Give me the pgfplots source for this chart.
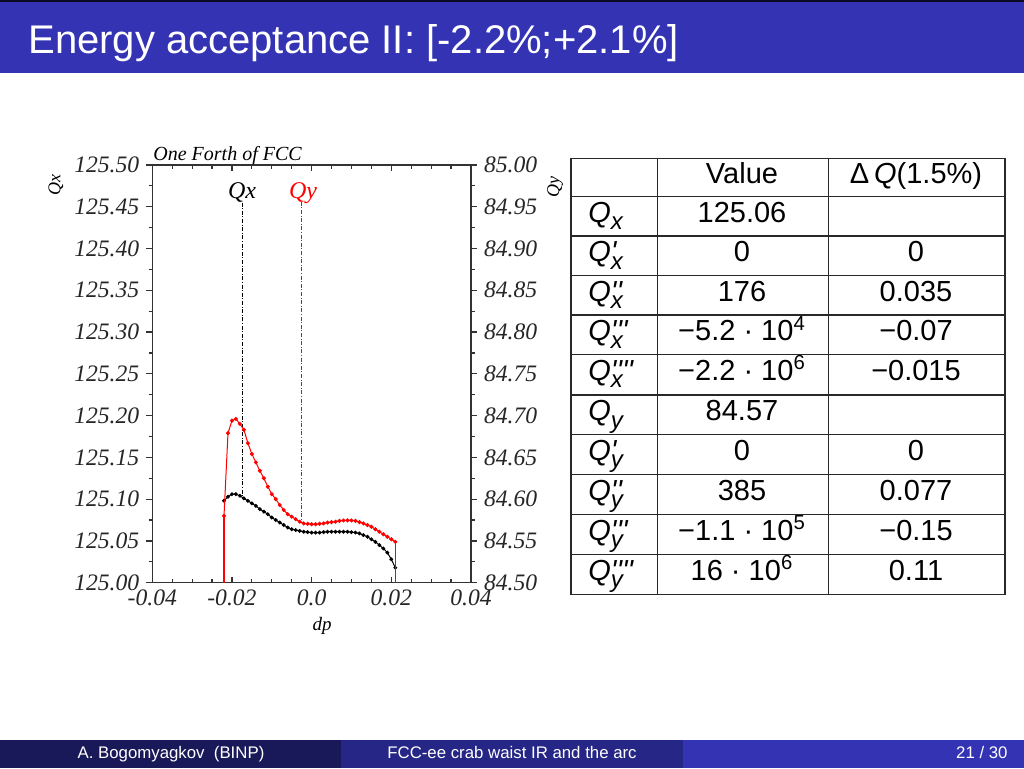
\documentclass[border=0pt]{standalone}
\usepackage{fontspec}
\usepackage{amsmath}
\usepackage{pgfplots}
\pgfplotsset{compat=1.18}
\setmainfont{Liberation Sans}
\newfontfamily\tms{Liberation Serif}
\definecolor{bluebar}{RGB}{51,51,179}
\definecolor{footA}{RGB}{25,25,90}
\definecolor{footB}{RGB}{38,38,134}
\definecolor{gridline}{RGB}{40,40,40}

% one table cell name: Q, primes over the subscript
\newcommand\pr{\textquotesingle}
\newcommand\Qv[2]{\textit{Q}\rlap{\textit{#2}}\raisebox{-3.6pt}{\fontsize{12}{12}\selectfont\textit{#1}}}

\pgfplotsset{
  qaxis/.style={
    at={(76.15pt,92.65pt)}, anchor=south west,
    scale only axis, width=159.35pt, height=208.85pt,
    xmin=-0.04, xmax=0.04,
    xtick={-0.04,-0.02,0,0.02,0.04},
    xticklabels={-0.04,-0.02,0.0,0.02,0.04},
    minor x tick num=3, minor y tick num=1,
    xtick align=inside, ytick align=outside,
    major tick length=3pt, minor tick length=1.8pt,
    axis line style={line width=0.6pt, black!80},
    every tick/.style={line width=0.6pt, black!80},
    tick label style={font=\tms\itshape\fontsize{11.8}{14}\selectfont, black!85},
    scaled ticks=false, clip=false,
  }
}

\begin{document}
\begin{tikzpicture}
\useasboundingbox (0,0) rectangle (512pt,384pt);
\fill[white] (0,0) rectangle (512pt,384pt);

% ---- axis for Qx (left scale)
\begin{axis}[qaxis,
  ymin=125, ymax=125.5,
  ytick={125,125.05,125.1,125.15,125.2,125.25,125.3,125.35,125.4,125.45,125.5},
  yticklabels={125.00,125.05,125.10,125.15,125.20,125.25,125.30,125.35,125.40,125.45,125.50},
  ytick pos=left,
]
\addplot[black, line width=0.5pt, mark=*, mark size=0.7pt] coordinates {
 (-0.022,125.098) (-0.021,125.103) (-0.020,125.106) (-0.019,125.106)
 (-0.018,125.104) (-0.017,125.101) (-0.016,125.098) (-0.015,125.095)
 (-0.014,125.092) (-0.013,125.088) (-0.012,125.085) (-0.011,125.082)
 (-0.010,125.078) (-0.009,125.075) (-0.008,125.072) (-0.007,125.069)
 (-0.006,125.066) (-0.005,125.064) (-0.004,125.063) (-0.003,125.062)
 (-0.002,125.061) (-0.001,125.0605) (0.000,125.060) (0.001,125.060)
 (0.002,125.060) (0.003,125.0605) (0.004,125.061) (0.005,125.061)
 (0.006,125.061) (0.007,125.061) (0.008,125.061) (0.009,125.061)
 (0.010,125.0605) (0.011,125.060) (0.012,125.059) (0.013,125.057)
 (0.014,125.055) (0.015,125.052) (0.016,125.049) (0.017,125.045)
 (0.018,125.041) (0.019,125.036) (0.020,125.028) (0.021,125.018)
};
% marker line at Qx
\addplot[black, line width=0.4pt, dash pattern=on 2pt off 0.8pt on 0.5pt off 0.8pt]
  coordinates {(-0.0174,125.455) (-0.0174,125.102)};
\end{axis}

% ---- axis for Qy (right scale)
\begin{axis}[qaxis,
  ymin=84.5, ymax=85,
  ytick={84.5,84.55,84.6,84.65,84.7,84.75,84.8,84.85,84.9,84.95,85},
  yticklabels={84.50,84.55,84.60,84.65,84.70,84.75,84.80,84.85,84.90,84.95,85.00},
  axis y line*=right, axis x line=none,
]
\addplot[red, line width=0.5pt, mark=*, mark size=0.75pt] coordinates {
 (-0.022,84.580) (-0.021,84.679) (-0.020,84.694) (-0.019,84.696)
 (-0.018,84.690) (-0.017,84.683) (-0.016,84.667) (-0.015,84.654)
 (-0.014,84.644) (-0.013,84.634) (-0.012,84.625) (-0.011,84.615)
 (-0.010,84.606) (-0.009,84.600) (-0.008,84.593) (-0.007,84.587)
 (-0.006,84.582) (-0.005,84.579) (-0.004,84.576) (-0.003,84.573)
 (-0.002,84.571) (-0.001,84.5705) (0.000,84.570) (0.001,84.570)
 (0.002,84.5705) (0.003,84.571) (0.004,84.572) (0.005,84.5725)
 (0.006,84.573) (0.007,84.574) (0.008,84.5745) (0.009,84.5747)
 (0.010,84.5745) (0.011,84.574) (0.012,84.5725) (0.013,84.571)
 (0.014,84.569) (0.015,84.567) (0.016,84.564) (0.017,84.561)
 (0.018,84.558) (0.019,84.555) (0.020,84.552) (0.021,84.549)
};
% edges of the acceptance
\addplot[red, line width=0.6pt] coordinates {(-0.022,84.5) (-0.022,84.58)};
\addplot[red, line width=0.6pt] coordinates {(0.021,84.549) (0.021,84.5)};
% marker line at Qy
\addplot[red, line width=0.4pt, dash pattern=on 2pt off 0.8pt on 0.5pt off 0.8pt]
  coordinates {(-0.0026,84.956) (-0.0026,84.573)};
\end{axis}

\begin{scope}[x=0.5pt, y=-0.5pt, yshift=384pt]
  % title bar
  \fill[bluebar] (0,0) rectangle (1024,73);
  \fill[black!80!bluebar] (0,0) rectangle (1024,2);
  \node[anchor=base west, text=white, inner sep=0, font=\fontsize{20}{24}\selectfont]
    at (28,54) {Energy acceptance II: [-2.2\%;+2.1\%]};

  % footline
  \fill[footA] (0,740) rectangle (341.3,768);
  \fill[footB] (341.3,740) rectangle (682.7,768);
  \fill[bluebar] (682.7,740) rectangle (1024,768);
  \begin{scope}[every node/.style={text=white, inner sep=0, font=\fontsize{8.4}{10}\selectfont}]
    \node[anchor=base] at (171,758) {A. Bogomyagkov\ \ (BINP)};
    \node[anchor=base] at (512,758) {FCC-ee crab waist IR and the arc};
    \node[anchor=base east] at (1008,758) {21 / 30};
  \end{scope}

  % chart texts
  \begin{scope}[every node/.style={inner sep=0}]
    \node[anchor=base west, font=\tms\itshape\fontsize{10}{12}\selectfont] at (153,160) {One Forth of FCC};
    \node[rotate=90, font=\tms\itshape\fontsize{9}{10}\selectfont] at (56,185) {Qx};
    \node[rotate=90, font=\tms\itshape\fontsize{9}{10}\selectfont] at (555,187) {Qy};
    \node[anchor=base, font=\tms\itshape\fontsize{9.5}{11}\selectfont] at (322,630) {dp};
    \node[anchor=base, font=\tms\itshape\fontsize{12}{14}\selectfont] at (242,198) {Qx};
    \node[anchor=base, text=red, font=\tms\itshape\fontsize{12}{14}\selectfont] at (303,198) {Qy};
  \end{scope}

  % table
  \begin{scope}[line width=0.75pt, draw=gridline]
    \draw (571,158.3) rectangle (1005,594.3);
    \foreach \yy in {196.7,236,275.7,315,354.5,395,434.3,474.3,514.3,554.3}
      \draw (571,\yy) -- (1005,\yy);
    \draw (657.3,158.3) -- (657.3,594.3);
    \draw (828.3,158.3) -- (828.3,594.3);
  \end{scope}
  \begin{scope}[every node/.style={inner sep=0, font=\fontsize{14.5}{17}\selectfont}]
    \node[anchor=base] at (742,183.5) {Value};
    \node[anchor=base] at (916,183.5) {Δ\,\textit{Q}(1.5\%)};
    \foreach \yb/\lab/\val/\dq in {
        222.5/{\Qv{x}{}}/{125.06}/{},
        261.8/{\Qv{x}{\pr}}/{0}/{0},
        301.5/{\Qv{x}{\pr\pr}}/{176}/{0.035},
        340.8/{\Qv{x}{\pr\pr\pr}}/{−5.2 · 10\textsuperscript{4}}/{−0.07},
        380.3/{\Qv{x}{\pr\pr\pr\pr}}/{−2.2 · 10\textsuperscript{6}}/{−0.015},
        420.8/{\Qv{y}{}}/{84.57}/{},
        460.1/{\Qv{y}{\pr}}/{0}/{0},
        500.1/{\Qv{y}{\pr\pr}}/{385}/{0.077},
        540.1/{\Qv{y}{\pr\pr\pr}}/{−1.1 · 10\textsuperscript{5}}/{−0.15},
        580.1/{\Qv{y}{\pr\pr\pr\pr}}/{16 · 10\textsuperscript{6}}/{0.11}} {
      \node[anchor=base west] at (588,\yb) {\lab};
      \node[anchor=base] at (742,\yb) {\val};
      \node[anchor=base] at (916,\yb) {\dq};
    }
  \end{scope}
\end{scope}
\end{tikzpicture}
\end{document}
